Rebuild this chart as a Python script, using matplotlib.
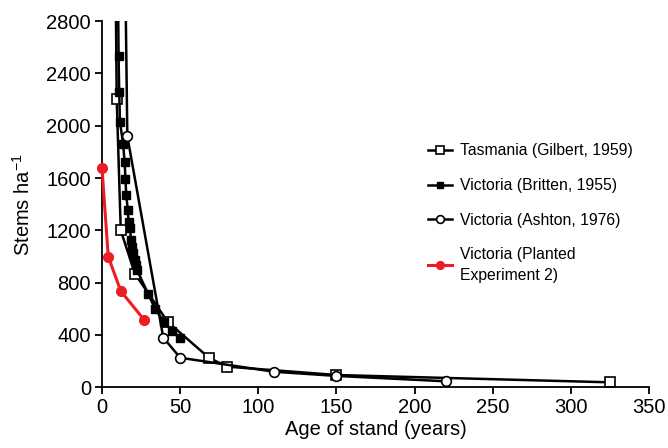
import matplotlib
matplotlib.use("Agg")
import matplotlib.pyplot as plt

plt.rcParams['font.family'] = ['Liberation Sans', 'DejaVu Sans']
plt.rcParams['mathtext.fontset'] = 'custom'
plt.rcParams['mathtext.rm'] = 'Liberation Sans'
plt.rcParams['mathtext.it'] = 'Liberation Sans'

# Data
gilbert_x = [8.5, 9.4, 12, 21, 42, 68.5, 80, 150, 325]
gilbert_y = [3400, 2204, 1200, 870, 500, 225, 158, 94, 38]

britten_x = [10.0, 10.6, 11, 11.5, 13.5, 14.5, 15, 15.5, 16.5, 17, 18, 18.5,
             19.5, 20, 21, 21.5, 22.5, 29.5, 34, 39.5, 45, 50]
britten_y = [3400, 2530, 2260, 2030, 1860, 1720, 1590, 1470, 1355, 1265, 1215, 1125,
             1075, 1025, 975, 935, 895, 715, 600, 500, 430, 380]

ashton_x = [14, 16.2, 39.2, 50, 110, 150, 220]
ashton_y = [4000, 1920, 380, 226, 119, 87, 46]

planted_x = [0, 4, 12, 27]
planted_y = [1675, 998, 736, 515]

labels = ['Tasmania (Gilbert, 1959)', 'Victoria (Britten, 1955)',
          'Victoria (Ashton, 1976)', 'Victoria (Planted\nExperiment 2)']

x_ticks = [0, 50, 100, 150, 200, 250, 300, 350]
y_ticks = [0, 400, 800, 1200, 1600, 2000, 2400, 2800]

fig = plt.figure(figsize=(6.68, 4.48), dpi=100)
ax = fig.add_axes([0.1527, 0.1355, 0.8189, 0.8175])

lw = 1.8
ax.plot(gilbert_x, gilbert_y, color='black', lw=lw, marker='s', ms=6.5,
        mfc='white', mec='black', mew=1.2, label=labels[0])
ax.plot(britten_x, britten_y, color='black', lw=lw, marker='s', ms=6,
        mfc='black', mec='black', label=labels[1])
ax.plot(ashton_x, ashton_y, color='black', lw=lw, marker='o', ms=7,
        mfc='white', mec='black', mew=1.2, label=labels[2])
ax.plot(planted_x, planted_y, color='#ee1c25', lw=2.2, marker='o', ms=7,
        mfc='#ee1c25', mec='#ee1c25', label=labels[3], clip_on=False, zorder=5)

ax.set_xlim(0, 350)
ax.set_ylim(0, 2800)
ax.set_xticks(x_ticks)
ax.set_yticks(y_ticks)
ax.spines['top'].set_visible(False)
ax.spines['right'].set_visible(False)
for s in ['left', 'bottom']:
    ax.spines[s].set_linewidth(1.3)
ax.tick_params(axis='both', direction='out', length=5, width=1.3, labelsize=14.5, pad=3)

ax.set_xlabel('Age of stand (years)', fontsize=14.5, labelpad=2)
ax.set_ylabel('Stems ha$^{\\mathregular{-1}}$', fontsize=14.5, labelpad=9)

leg = ax.legend(loc='upper left', bbox_to_anchor=(0.585, 0.683), frameon=False,
                fontsize=11.3, handlelength=1.5, handletextpad=0.5,
                labelspacing=1.25, borderaxespad=0, markerscale=0.8)
for t in leg.get_texts():
    t.set_linespacing(1.45)

fig.savefig('out.png', dpi=100)
